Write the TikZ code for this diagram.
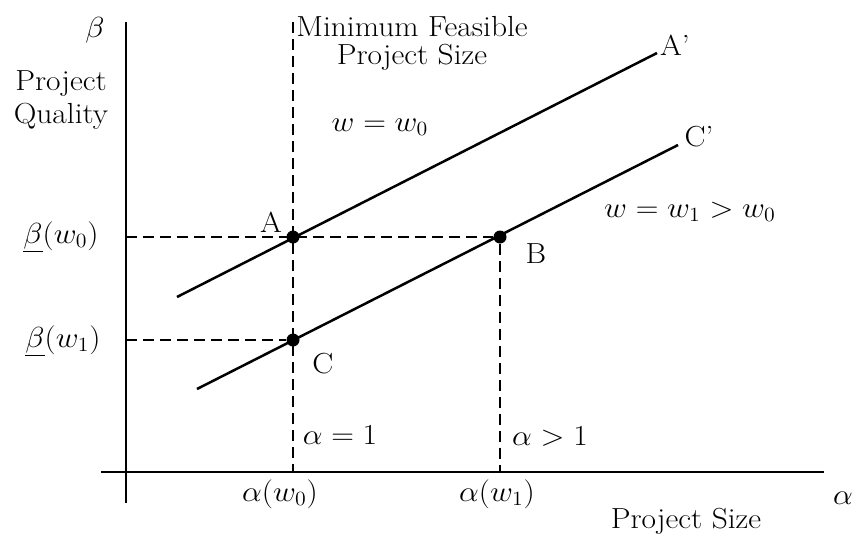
\documentclass[tikz,border=0pt]{standalone}
\begin{document}
\begin{tikzpicture}[x=1pt,y=-1pt,
  lbl/.style={inner sep=0pt, xscale=1.82, yscale=1.68, font=\fontsize{17.28}{20}\selectfont},
  axis/.style={line width=2.6pt},
  curve/.style={line width=2.5pt},
  guide/.style={line width=2.2pt, dash pattern=on 11pt off 6pt},
  dot/.style={circle, fill=black, inner sep=0pt, minimum size=13pt}]
\useasboundingbox (0,0) rectangle (855,536);
% axes
\coordinate (ytop) at (126,22);
\coordinate (ybot) at (126,503);
\coordinate (xl) at (101,472);
\coordinate (xr) at (824,472);
\draw[axis] (ytop) -- (ybot);
\draw[axis] (xl) -- (xr);
% points
\node[dot] (A) at (293,237) {};
\node[dot] (B) at (500,237) {};
\node[dot] (C) at (293,340) {};
% guide coordinates
\coordinate (mtop) at (293,22);
\coordinate (mbot) at (293,472);
\coordinate (bbot) at (500,472);
\coordinate (yA) at (126,237);
\coordinate (yC) at (126,340);
\draw[guide] (mtop) -- (mbot);
\draw[guide] (B) -- (bbot);
\draw[guide] (yA) -- (B);
\draw[guide] (yC) -- (C);
% lines
\coordinate (A0) at (177,297);
\coordinate (A1) at (657,53);
\coordinate (C0) at (197,389);
\coordinate (C1) at (678,145);
\draw[curve] (A0) -- (A1);
\draw[curve] (C0) -- (C1);
% labels
\node[lbl] (beta) at (95,30) {$\beta$};
\node[lbl, align=center] (pq) at (61,100) {Project\\Quality};
\node[lbl, align=center, font=\fontsize{17.28}{16.8}\selectfont] (mfs) at (412,43) {Minimum Feasible\\Project Size};
\node[lbl] (w0) at (380,127) {$w = w_0$};
\node[lbl] (lA) at (271,222) {A};
\node[lbl] (lAp) at (675,45) {A'};
\node[lbl] (lCp) at (699,137) {C'};
\node[lbl] (w1) at (690,212) {$w = w_1 > w_0$};
\node[lbl] (lB) at (536,254) {B};
\node[lbl] (lC) at (323,364) {C};
\node[lbl] (bw0) at (61,237) {$\underline{\beta}(w_0)$};
\node[lbl] (bw1) at (63,341) {$\underline{\beta}(w_1)$};
\node[lbl] (a1) at (340,435) {$\alpha = 1$};
\node[lbl] (ag1) at (550,437) {$\alpha > 1$};
\node[lbl] (aw0) at (280,494) {$\alpha(w_0)$};
\node[lbl] (aw1) at (497,494) {$\alpha(w_1)$};
\node[lbl] (alpha) at (843,498) {$\alpha$};
\node[lbl] (ps) at (686,521) {Project Size};
\end{tikzpicture}
\end{document}
